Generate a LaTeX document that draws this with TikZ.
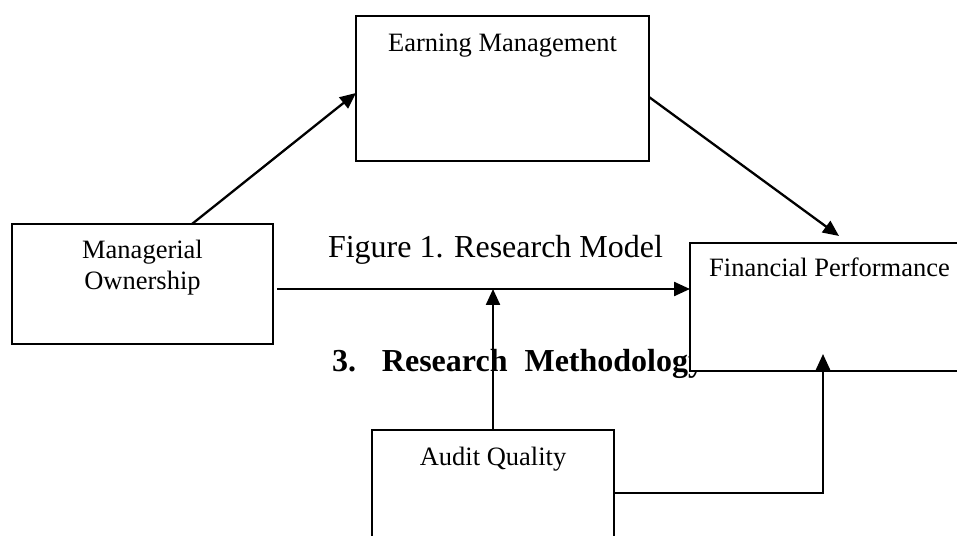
\documentclass[tikz,border=0pt]{standalone}
\usepackage{fontspec}
\setmainfont{Liberation Serif}
\usetikzlibrary{arrows.meta,calc}
\begin{document}
\begin{tikzpicture}[x=1bp,y=-1bp,
  box/.style={draw, line width=2bp, fill=white, inner sep=0pt, outer sep=0pt, rectangle},
  lbl/.style={inner sep=0pt, outer sep=0pt, anchor=base, font=\fontsize{26.5bp}{31bp}\selectfont},
  head/.style={inner sep=0pt, outer sep=0pt, anchor=base west, font=\fontsize{32bp}{38bp}\selectfont},
  sect/.style={inner sep=0pt, outer sep=0pt, anchor=base west, font=\fontsize{32bp}{38bp}\selectfont\bfseries},
  arr/.style={line width=2.3bp, -{Triangle[length=16bp,width=14bp]}}]
\useasboundingbox (0,0) rectangle (957,536);
\begin{scope}
\clip (0,0) rectangle (957,536);
% texts lying under boxes
\node[head] (cap) at (328,258) {Figure 1. Research Model};
\node[sect] (sec) at (332,372) {3.\hspace{26bp}Research\hspace{17bp}Methodology};
% boxes
\node[box, minimum width=293bp, minimum height=145bp] (EM) at (502.5,88.5) {};
\node[box, minimum width=261bp, minimum height=120bp] (MO) at (142.5,284) {};
\node[box, minimum width=279bp, minimum height=128bp] (FP) at (829.5,307) {};
\node[box, minimum width=242bp, minimum height=126bp] (AQ) at (493,493) {};
% labels
\node[lbl] (EMt) at (502.5,52) {Earning Management};
\node[lbl] (MOt1) at (142.5,259) {Managerial};
\node[lbl] (MOt2) at (142.5,290) {Ownership};
\node[lbl] (FPt) at (829.5,277) {Financial Performance};
\node[lbl] (AQt) at (493,465) {Audit Quality};
% connectors
\draw[arr] ([xshift=180bp]MO.north west) -- ([yshift=-4.5bp]EM.west);
\draw[arr] ([yshift=-8.5bp]EM.east) -- ([xshift=149bp,yshift=7bp]FP.north west);
\coordinate (hs) at ($(MO.east)+(4,5)$);
\draw[arr] (hs) -- (hs -| FP.west);
\draw[arr] (AQ.north) -- (AQ.north |- hs);
\draw[arr] (AQ.east) -| ([xshift=133bp,yshift=17bp]FP.south west);
\end{scope}
\end{tikzpicture}
\end{document}
